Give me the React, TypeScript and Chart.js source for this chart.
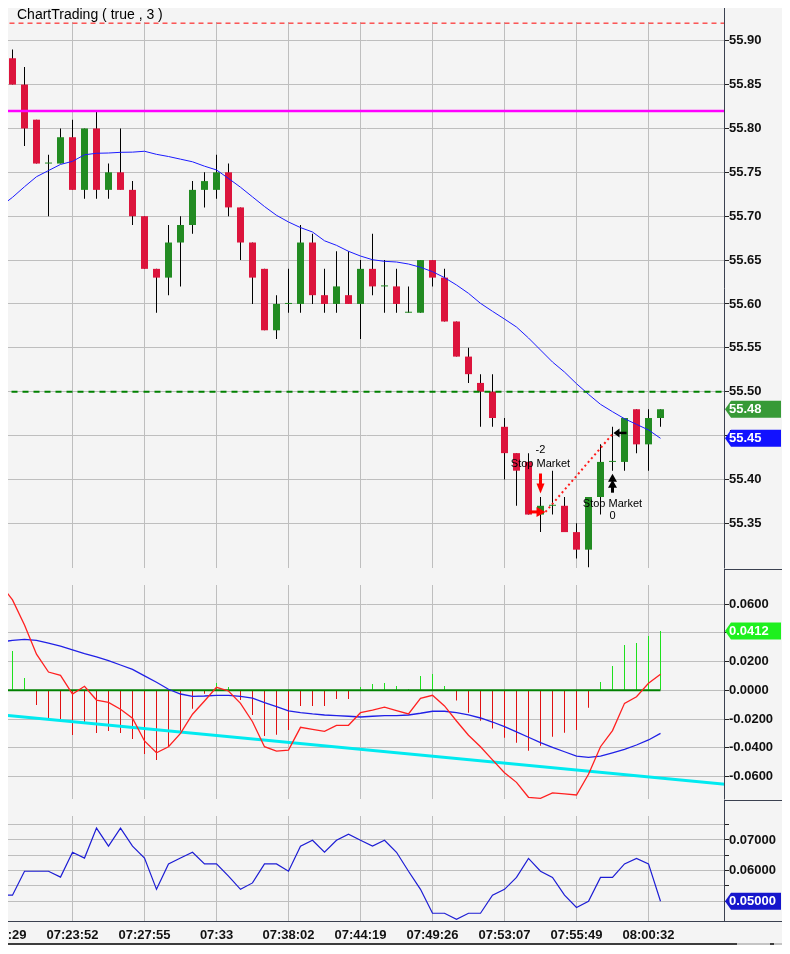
import React, { useEffect, useRef } from 'react';
import { Chart, registerables } from 'chart.js';

Chart.register(...registerables);

const FONT = '"Liberation Sans", Arial, Helvetica, sans-serif';
const GRID = '#bebebe';
const AXIS = '#3b4150';
const TXT = '#111111';
const UP = '#228b22';
const DOWN = '#dc143c';

// ---------- x axis (bar index) ----------
const timeTickIdx = [-1, 5, 11, 17, 23, 29, 35, 41, 47, 53];
const timeTickLabels = ['07:19:29', '07:23:52', '07:27:55', '07:33', '07:38:02', '07:44:19', '07:49:26', '07:53:07', '07:55:49', '08:00:32'];

// ---------- price panel ----------
const opens = [55.88, 55.85, 55.81, 55.76, 55.76, 55.79, 55.73, 55.80, 55.73, 55.75, 55.73, 55.70, 55.64, 55.63, 55.67, 55.69, 55.73, 55.73, 55.75, 55.71, 55.67, 55.64, 55.57, 55.60, 55.60, 55.67, 55.61, 55.60, 55.61, 55.60, 55.64, 55.62, 55.62, 55.59, 55.59, 55.65, 55.63, 55.58, 55.54, 55.51, 55.50, 55.46, 55.43, 55.42, 55.36, 55.37, 55.37, 55.34, 55.32, 55.38, 55.42, 55.42, 55.48, 55.44, 55.47];
const highs = [55.89, 55.87, 55.81, 55.77, 55.80, 55.81, 55.80, 55.82, 55.76, 55.80, 55.74, 55.70, 55.64, 55.69, 55.70, 55.74, 55.75, 55.77, 55.76, 55.71, 55.67, 55.64, 55.61, 55.64, 55.69, 55.68, 55.64, 55.66, 55.66, 55.65, 55.68, 55.65, 55.64, 55.62, 55.65, 55.65, 55.64, 55.58, 55.55, 55.52, 55.52, 55.47, 55.43, 55.43, 55.38, 55.41, 55.38, 55.35, 55.38, 55.44, 55.46, 55.47, 55.48, 55.48, 55.48];
const lows = [55.85, 55.78, 55.76, 55.70, 55.76, 55.73, 55.72, 55.72, 55.72, 55.73, 55.69, 55.64, 55.59, 55.61, 55.62, 55.68, 55.71, 55.72, 55.70, 55.65, 55.60, 55.57, 55.56, 55.59, 55.59, 55.60, 55.59, 55.59, 55.60, 55.56, 55.61, 55.59, 55.59, 55.59, 55.59, 55.62, 55.58, 55.54, 55.51, 55.46, 55.46, 55.40, 55.37, 55.36, 55.34, 55.36, 55.34, 55.31, 55.30, 55.36, 55.41, 55.41, 55.43, 55.41, 55.46];
const closes = [55.85, 55.80, 55.76, 55.76, 55.79, 55.73, 55.80, 55.73, 55.75, 55.73, 55.70, 55.64, 55.63, 55.67, 55.69, 55.73, 55.74, 55.75, 55.71, 55.67, 55.63, 55.57, 55.60, 55.60, 55.67, 55.61, 55.60, 55.62, 55.60, 55.64, 55.62, 55.62, 55.60, 55.59, 55.65, 55.63, 55.58, 55.54, 55.52, 55.50, 55.47, 55.43, 55.41, 55.36, 55.37, 55.37, 55.34, 55.32, 55.38, 55.42, 55.42, 55.47, 55.44, 55.47, 55.48];
const smaLead = 55.711;
const sma = [55.7215, 55.7336, 55.745, 55.752, 55.759, 55.7625, 55.770, 55.7717, 55.772, 55.7728, 55.773, 55.774, 55.7705, 55.768, 55.765, 55.762, 55.757, 55.7527, 55.743, 55.733, 55.722, 55.711, 55.701, 55.6934, 55.687, 55.682, 55.672, 55.6668, 55.660, 55.6546, 55.6504, 55.6486, 55.6478, 55.6455, 55.6418, 55.6368, 55.630, 55.6216, 55.6121, 55.6007, 55.5916, 55.5828, 55.5737, 55.5612, 55.5475, 55.5338, 55.5224, 55.5091, 55.497, 55.4856, 55.4772, 55.4692, 55.4628, 55.4564, 55.4469];
const priceTicks = [55.35, 55.40, 55.45, 55.50, 55.55, 55.60, 55.65, 55.70, 55.75, 55.80, 55.85, 55.90];
const levelValues = [55.92, 55.82, 55.50];
const tradeIdx = [44, 50];
const tradePrices = [55.363, 55.453];
const tradeQty = ['-2', '0'];
const tradeLabels = ['Stop Market', 'Stop Market'];

// ---------- MACD panel ----------
const macdHist = [0.0274, 0.0086, -0.0102, -0.0200, -0.0207, -0.0311, -0.0221, -0.0297, -0.0283, -0.0297, -0.0339, -0.0443, -0.0485, -0.0393, -0.0288, -0.0128, -0.0024, 0.0051, 0.0023, -0.0068, -0.0172, -0.0318, -0.0309, -0.0276, -0.0109, -0.0109, -0.0109, -0.0061, -0.0061, 0.0023, 0.0044, 0.0051, 0.0030, 0.0009, 0.0100, 0.0114, 0.0030, -0.0072, -0.0156, -0.0212, -0.0267, -0.0330, -0.0365, -0.0421, -0.0386, -0.0323, -0.0295, -0.0276, -0.0121, 0.0058, 0.0169, 0.0315, 0.0329, 0.0378, 0.0412];
const macdLead = 0.074;
const macdLine = [0.0629, 0.0455, 0.0251, 0.0127, 0.0104, -0.0026, 0.0028, -0.0068, -0.0084, -0.0132, -0.0195, -0.0353, -0.0435, -0.0393, -0.0300, -0.0167, -0.0075, 0.0021, -0.0005, -0.0091, -0.0219, -0.0393, -0.0423, -0.0416, -0.0258, -0.0272, -0.0286, -0.0244, -0.0244, -0.0156, -0.0139, -0.0118, -0.0142, -0.0165, -0.0056, -0.0035, -0.0109, -0.0214, -0.0313, -0.0393, -0.0485, -0.0574, -0.0641, -0.0745, -0.0752, -0.0715, -0.0722, -0.0729, -0.0585, -0.0393, -0.0281, -0.0091, -0.0045, 0.0049, 0.0111];
const signalLead = 0.0335;
const signalLine = [0.0348, 0.0355, 0.0348, 0.0329, 0.0308, 0.0281, 0.0255, 0.0232, 0.0206, 0.0176, 0.0146, 0.0100, 0.0056, 0.0007, -0.0026, -0.0042, -0.0040, -0.0035, -0.0035, -0.0042, -0.0054, -0.0086, -0.0114, -0.0144, -0.0156, -0.0165, -0.0172, -0.0177, -0.0181, -0.0186, -0.0181, -0.0177, -0.0177, -0.0172, -0.0160, -0.0146, -0.0146, -0.0156, -0.0172, -0.0193, -0.0221, -0.0253, -0.0290, -0.0327, -0.0365, -0.0397, -0.0428, -0.0458, -0.0467, -0.0458, -0.0435, -0.0411, -0.0381, -0.0346, -0.0300];
const trendIdx = [-1, 60];
const trendVals = [-0.0171, -0.0660];
const zeroIdx = [-1, 54];
const macdTicks = [-0.06, -0.04, -0.02, 0, 0.02, 0.04, 0.06];

// ---------- lower oscillator panel ----------
const oscLead = 0.052;
const oscLine = [0.0520, 0.0598, 0.0598, 0.0598, 0.0579, 0.0660, 0.0641, 0.0739, 0.0680, 0.0739, 0.0680, 0.0641, 0.0539, 0.0622, 0.0641, 0.0660, 0.0622, 0.0622, 0.0582, 0.0539, 0.0560, 0.0622, 0.0622, 0.0598, 0.0680, 0.0699, 0.0660, 0.0699, 0.0719, 0.0699, 0.0680, 0.0699, 0.0660, 0.0598, 0.0539, 0.0461, 0.0461, 0.0441, 0.0461, 0.0461, 0.0520, 0.0539, 0.0578, 0.0640, 0.0598, 0.0578, 0.0520, 0.0480, 0.0500, 0.0578, 0.0578, 0.0622, 0.0640, 0.0622, 0.0500];
const oscTicks = [0.05, 0.055, 0.06, 0.065, 0.07, 0.075];

// ---------- helpers ----------
const X_MIN = -0.375;
const X_MAX = 59.375;
const W = 774;
const AXIS_W = 57;

const series = (lead: number, arr: number[]) => [{ x: -1, y: lead }, ...arr.map((y, i) => ({ x: i, y }))];
const flat = (v: number) => [{ x: -1, y: v }, { x: 60, y: v }];

function xScale(showLabels: boolean) {
  return {
    type: 'linear',
    min: X_MIN,
    max: X_MAX,
    bounds: 'data',
    offset: false,
    afterBuildTicks: (s: any) => {
      s.ticks = timeTickIdx.map((v) => ({ value: v }));
    },
    afterFit: (s: any) => {
      s.height = showLabels ? 24 : 0;
      s.paddingLeft = 0;
      s.paddingRight = 0;
    },
    grid: { color: GRID, lineWidth: 1, drawTicks: false, offset: false },
    border: { display: false },
    ticks: {
      display: showLabels,
      autoSkip: false,
      maxRotation: 0,
      padding: 7,
      color: TXT,
      font: { family: FONT, size: 13, weight: 'bold' },
      callback: (v: any) => {
        const k = timeTickIdx.indexOf(v);
        return k >= 0 ? timeTickLabels[k] : '';
      },
    },
  };
}

function yScale(min: number, max: number, vals: number[], fmt: (v: number) => string) {
  return {
    type: 'linear',
    position: 'right',
    min,
    max,
    bounds: 'data',
    afterBuildTicks: (s: any) => {
      s.ticks = vals.map((v) => ({ value: v }));
    },
    afterFit: (s: any) => {
      s.width = AXIS_W;
      s.paddingTop = 0;
      s.paddingBottom = 0;
    },
    grid: { color: GRID, lineWidth: 1, tickColor: '#222', tickLength: 4, drawTicks: true },
    border: { display: false },
    ticks: {
      autoSkip: false,
      padding: 0,
      color: TXT,
      font: { family: FONT, size: 13, weight: 'bold' },
      callback: (v: any) => fmt(Number(v)),
    },
  };
}

function axisLine(chart: any) {
  const ctx = chart.ctx;
  const x = Math.round(chart.chartArea.right) - 0.5;
  ctx.save();
  ctx.strokeStyle = AXIS;
  ctx.lineWidth = 1;
  ctx.beginPath();
  ctx.moveTo(x, 0);
  ctx.lineTo(x, chart.chartArea.bottom + 0.5);
  ctx.stroke();
  ctx.restore();
}

function hLine(chart: any, y: number, x0: number, x1: number, color = AXIS) {
  const ctx = chart.ctx;
  ctx.save();
  ctx.strokeStyle = color;
  ctx.lineWidth = 1;
  ctx.beginPath();
  ctx.moveTo(x0, y);
  ctx.lineTo(x1, y);
  ctx.stroke();
  ctx.restore();
}

function valueBox(chart: any, value: number, color: string, text: string) {
  const ctx = chart.ctx;
  const y = chart.scales.y.getPixelForValue(value);
  const x0 = chart.chartArea.right;
  const x1 = chart.width - 1;
  const h = 17;
  ctx.save();
  ctx.beginPath();
  ctx.moveTo(x0, y);
  ctx.lineTo(x0 + 6, y - h / 2);
  ctx.lineTo(x1, y - h / 2);
  ctx.lineTo(x1, y + h / 2);
  ctx.lineTo(x0 + 6, y + h / 2);
  ctx.closePath();
  ctx.fillStyle = color;
  ctx.fill();
  ctx.fillStyle = '#ffffff';
  ctx.font = `bold 13px ${FONT}`;
  ctx.textBaseline = 'middle';
  ctx.textAlign = 'left';
  ctx.fillText(text, x0 + 4, y + 0.5);
  ctx.restore();
}

function tri(ctx: any, pts: number[][]) {
  ctx.beginPath();
  ctx.moveTo(pts[0][0], pts[0][1]);
  for (let i = 1; i < pts.length; i++) ctx.lineTo(pts[i][0], pts[i][1]);
  ctx.closePath();
  ctx.fill();
}

const pricePlugin = {
  id: 'priceExtras',
  afterDatasetsDraw(chart: any) {
    const ctx = chart.ctx;
    const xs = chart.scales.x;
    const ys = chart.scales.y;
    const ex = xs.getPixelForValue(tradeIdx[0]);
    const ey = ys.getPixelForValue(tradePrices[0]);
    const qx = xs.getPixelForValue(tradeIdx[1]);
    const qy = ys.getPixelForValue(tradePrices[1]);
    ctx.save();
    // connecting dotted line
    ctx.strokeStyle = '#ff1a1a';
    ctx.lineWidth = 2;
    ctx.setLineDash([2, 3]);
    ctx.beginPath();
    ctx.moveTo(ex + 5, ey);
    ctx.lineTo(qx + 1, qy);
    ctx.stroke();
    ctx.setLineDash([]);

    // entry: red right arrow
    ctx.fillStyle = '#ff0000';
    ctx.fillRect(ex - 12, ey - 1.5, 9, 3);
    tri(ctx, [[ex + 5, ey], [ex - 4, ey - 5], [ex - 4, ey + 5]]);
    // entry: red down arrow above bar
    const tipE = ys.getPixelForValue(highs[tradeIdx[0]]) - 3.5;
    ctx.fillRect(ex - 1.5, tipE - 20, 3, 12);
    tri(ctx, [[ex, tipE], [ex - 4, tipE - 10], [ex + 4, tipE - 10]]);

    // exit: black left arrow
    ctx.fillStyle = '#000000';
    ctx.fillRect(qx + 6, qy - 1.25, 8, 2.5);
    tri(ctx, [[qx + 1, qy], [qx + 7, qy - 4.5], [qx + 7, qy + 4.5]]);
    // exit: black up arrow below bar
    const tipX = ys.getPixelForValue(lows[tradeIdx[1]]) + 3;
    tri(ctx, [[qx, tipX], [qx - 4.5, tipX + 8], [qx + 4.5, tipX + 8]]);
    tri(ctx, [[qx, tipX + 6], [qx - 4.5, tipX + 14], [qx + 4.5, tipX + 14]]);
    ctx.fillRect(qx - 1.5, tipX + 12, 3, 7);

    // texts
    ctx.fillStyle = '#000000';
    ctx.font = `11px ${FONT}`;
    ctx.textAlign = 'center';
    ctx.textBaseline = 'middle';
    ctx.fillText(tradeQty[0], ex, tipE - 44);
    ctx.fillText(tradeLabels[0], ex, tipE - 30);
    ctx.fillText(tradeLabels[1], qx, tipX + 30);
    ctx.fillText(tradeQty[1], qx, tipX + 42.5);
    ctx.restore();
  },
  afterDraw(chart: any) {
    const ctx = chart.ctx;
    axisLine(chart);
    hLine(chart, chart.height - 0.5, chart.chartArea.right - 1, chart.width);
    ctx.save();
    ctx.fillStyle = '#000000';
    ctx.font = `14px ${FONT}`;
    ctx.textAlign = 'left';
    ctx.textBaseline = 'middle';
    ctx.fillText('ChartTrading ( true , 3 )', 9, 7.5);
    ctx.restore();
    valueBox(chart, closes[closes.length - 1], '#379a37', closes[closes.length - 1].toFixed(2));
    valueBox(chart, sma[sma.length - 1], '#1212ff', sma[sma.length - 1].toFixed(2));
  },
};

const macdPlugin = {
  id: 'macdExtras',
  afterDraw(chart: any) {
    axisLine(chart);
    hLine(chart, chart.height - 0.5, chart.chartArea.right - 1, chart.width);
    valueBox(chart, macdHist[macdHist.length - 1], '#1ef01e', macdHist[macdHist.length - 1].toFixed(4));
  },
};

const oscPlugin = {
  id: 'oscExtras',
  afterDraw(chart: any) {
    const ctx = chart.ctx;
    axisLine(chart);
    hLine(chart, Math.round(chart.chartArea.bottom) + 0.5, 0, chart.width);
    valueBox(chart, oscLine[oscLine.length - 1], '#1616cc', oscLine[oscLine.length - 1].toFixed(5));
    ctx.save();
    const yb = chart.height - 2;
    ctx.fillStyle = '#3e3e3e';
    ctx.fillRect(0, yb, 729, 2);
    ctx.fillStyle = '#c4c4c4';
    ctx.fillRect(729, yb, 33, 2);
    ctx.fillStyle = '#3e3e3e';
    ctx.fillRect(762, yb, 4, 2);
    ctx.fillStyle = '#c4c4c4';
    ctx.fillRect(766, yb, 8, 2);
    ctx.restore();
  },
};

const common = {
  responsive: false,
  animation: false,
  events: [],
  plugins: { legend: { display: false }, tooltip: { enabled: false } },
};

export default function App() {
  const refA = useRef<HTMLCanvasElement>(null);
  const refB = useRef<HTMLCanvasElement>(null);
  const refC = useRef<HTMLCanvasElement>(null);

  useEffect(() => {
    Chart.defaults.font.family = FONT;

    const priceChart = new Chart(refA.current as HTMLCanvasElement, {
      type: 'bar',
      data: {
        datasets: [
          {
            type: 'line',
            data: flat(levelValues[0]),
            borderColor: '#ff0000',
            borderWidth: 1,
            borderDash: [5, 4],
            pointRadius: 0,
            order: 0,
          },
          {
            type: 'line',
            data: flat(levelValues[1]),
            borderColor: '#ff00ff',
            borderWidth: 2.5,
            pointRadius: 0,
            order: 0,
          },
          {
            type: 'line',
            data: flat(levelValues[2]),
            borderColor: '#008000',
            borderWidth: 2,
            borderDash: [6, 5],
            pointRadius: 0,
            order: 0,
          },
          {
            type: 'line',
            data: series(smaLead, sma),
            borderColor: '#1a1aff',
            borderWidth: 1,
            pointRadius: 0,
            tension: 0,
            order: 1,
          },
          {
            type: 'bar',
            data: closes.map((c, i) => ({ x: i, y: [opens[i], c] })),
            backgroundColor: closes.map((c, i) => (c >= opens[i] ? UP : DOWN)),
            barThickness: 7,
            grouped: false,
            minBarLength: 1,
            inflateAmount: 0,
            borderWidth: 0,
            order: 2,
          },
          {
            type: 'bar',
            data: closes.map((_, i) => ({ x: i, y: [lows[i], highs[i]] })),
            backgroundColor: '#000000',
            barThickness: 1,
            grouped: false,
            inflateAmount: 0,
            borderWidth: 0,
            order: 3,
          },
        ] as any,
      },
      options: {
        ...common,
        layout: { padding: { top: 14, bottom: 2, left: 0, right: 0 } },
        scales: {
          x: xScale(false),
          y: yScale(55.2991, 55.9213, priceTicks, (v) => v.toFixed(2)),
        },
      } as any,
      plugins: [pricePlugin],
    });

    const macdChart = new Chart(refB.current as HTMLCanvasElement, {
      type: 'bar',
      data: {
        datasets: [
          {
            type: 'line',
            data: series(macdLead, macdLine),
            borderColor: '#ff2020',
            borderWidth: 1.3,
            pointRadius: 0,
            order: 0,
          },
          {
            type: 'line',
            data: series(signalLead, signalLine),
            borderColor: '#2020e6',
            borderWidth: 1.3,
            pointRadius: 0,
            order: 1,
          },
          {
            type: 'line',
            data: zeroIdx.map((x) => ({ x, y: 0 })),
            borderColor: '#008000',
            borderWidth: 2,
            pointRadius: 0,
            order: 2,
          },
          {
            type: 'line',
            data: trendIdx.map((x, k) => ({ x, y: trendVals[k] })),
            borderColor: '#00eaf0',
            borderWidth: 3,
            pointRadius: 0,
            order: 3,
          },
          {
            type: 'bar',
            data: macdHist.map((v, i) => ({ x: i, y: v })),
            backgroundColor: macdHist.map((v) => (v >= 0 ? '#1ee01e' : '#e01010')),
            barThickness: 1,
            grouped: false,
            inflateAmount: 0,
            borderWidth: 0,
            order: 4,
          },
        ] as any,
      },
      options: {
        ...common,
        layout: { padding: { top: 15, bottom: 2, left: 0, right: 0 } },
        scales: {
          x: xScale(false),
          y: yScale(-0.0757, 0.0733, macdTicks, (v) => v.toFixed(4)),
        },
      } as any,
      plugins: [macdPlugin],
    });

    const oscChart = new Chart(refC.current as HTMLCanvasElement, {
      type: 'line',
      data: {
        datasets: [
          {
            data: series(oscLead, oscLine),
            borderColor: '#1c1cd4',
            borderWidth: 1.2,
            pointRadius: 0,
          },
        ] as any,
      },
      options: {
        ...common,
        layout: { padding: { top: 15, bottom: 0, left: 0, right: 0 } },
        scales: {
          x: xScale(true),
          y: yScale(0.04357, 0.07783, oscTicks, (v) =>
            Math.abs(v * 100 - Math.round(v * 100)) < 1e-6 ? v.toFixed(5) : ''
          ),
        },
      } as any,
      plugins: [oscPlugin],
    });

    return () => {
      priceChart.destroy();
      macdChart.destroy();
      oscChart.destroy();
    };
  }, []);

  return (
    <div
      style={{
        position: 'relative',
        width: W,
        height: 937,
        background: '#f4f4f4',
        boxShadow: '0 0 7px 3px rgba(0,0,0,0.38)',
        overflow: 'hidden',
      }}
    >
      <canvas ref={refA} width={W} height={562} style={{ position: 'absolute', left: 0, top: 0, width: W, height: 562 }} />
      <canvas ref={refB} width={W} height={231} style={{ position: 'absolute', left: 0, top: 562, width: W, height: 231 }} />
      <canvas ref={refC} width={W} height={144} style={{ position: 'absolute', left: 0, top: 793, width: W, height: 144 }} />
    </div>
  );
}
